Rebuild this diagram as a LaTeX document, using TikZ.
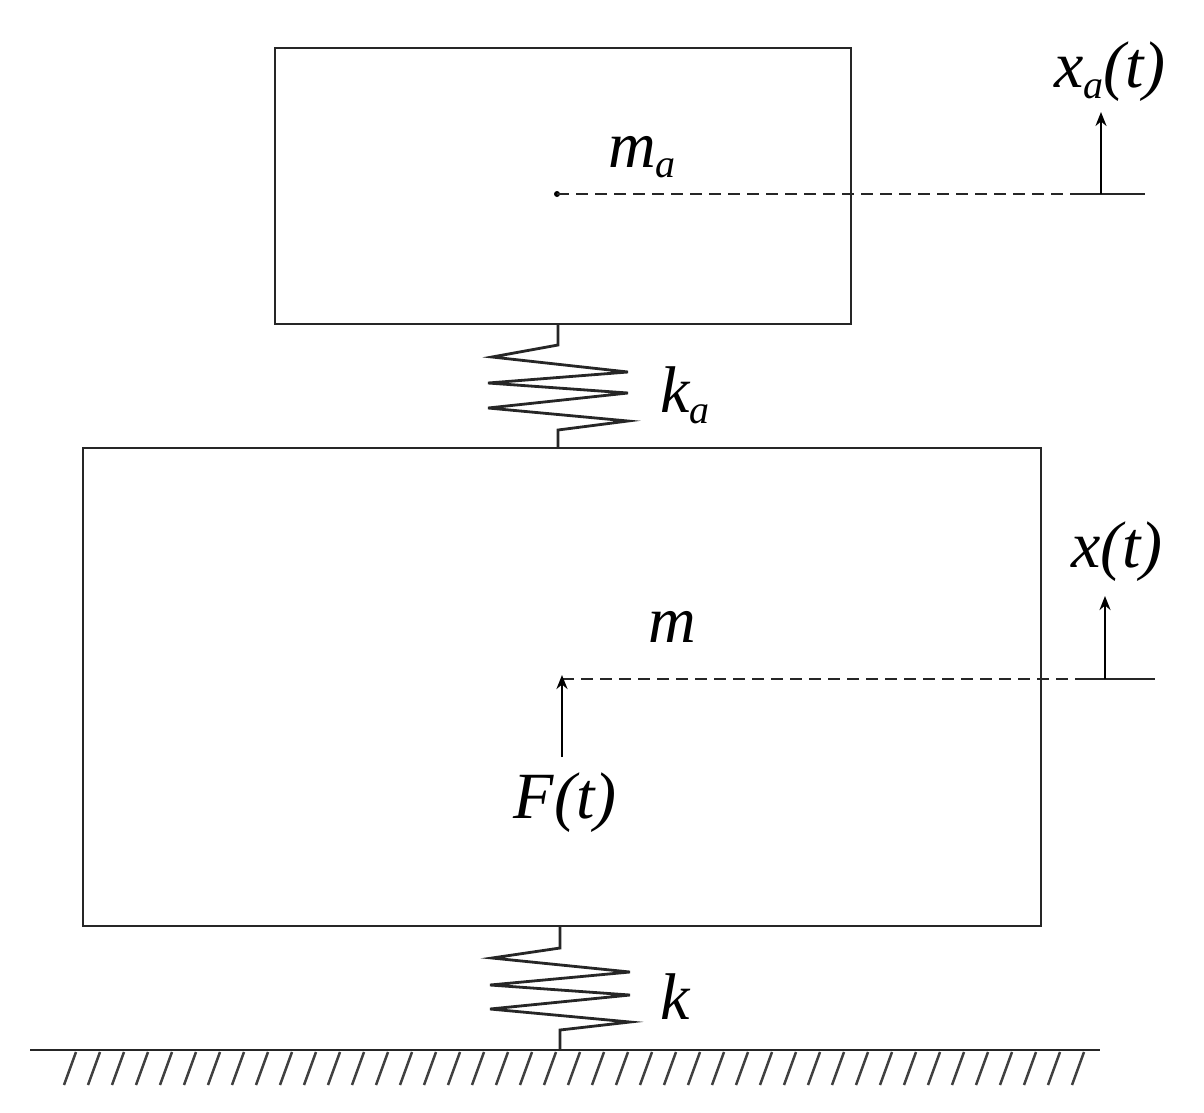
\documentclass[tikz,border=0pt]{standalone}
\usepackage{fontspec}
\setmainfont{Liberation Serif}
\usetikzlibrary{arrows.meta}
\newcommand{\lowsub}[1]{\raisebox{-0.35ex}{\fontsize{40}{40}\selectfont\textit{#1}}}
\begin{document}
\begin{tikzpicture}[x=1pt,y=-1pt,
  line/.style={line width=2.8pt,draw=black!85},
  lbl/.style={font=\fontsize{66}{72}\selectfont\itshape,inner sep=0pt},
  arr/.style={line width=2.8pt,-{Stealth[length=14pt,width=11pt]}}]
\useasboundingbox (0,0) rectangle (1204,1112);
\node[line,draw,minimum width=576,minimum height=276,inner sep=0pt] (ma) at (563,186) {};
\node[line,draw,minimum width=958,minimum height=478,inner sep=0pt] (mb) at (562,687) {};
% spring ka
\draw[line] (558,324) -- (558,345) -- (492,357) -- (628,372) -- (488,383) -- (628,393) -- (488,408) -- (628,421) -- (558,430) -- (558,448);
% spring k
\draw[line] (560,926) -- (560,948) -- (492,958) -- (630,972) -- (490,985) -- (630,995) -- (490,1009) -- (630,1022) -- (560,1030) -- (560,1050);
% ground
\coordinate (g1) at (30,1050); \coordinate (g2) at (1100,1050);
\draw[line] (g1) -- (g2);
\foreach \i in {0,...,42} {\draw[line width=2.5pt,black!75] (76+24*\i,1052) -- (64+24*\i,1085);}
% upper dashed
\coordinate (d1) at (557,194); \coordinate (d2) at (1145,194);
\fill (d1) circle (3);
\draw[line,dash pattern=on 12pt off 7pt] (d1) -- (1080,194);
\draw[line] (1080,194) -- (d2);
\coordinate (a1) at (1101,194); \coordinate (a2) at (1101,112);
\draw[arr] (a1) -- (a2);
\node[lbl] (xa) at (1110,72) {x\lowsub{a}(t)};
\node[lbl] (mal) at (642,157) {m\lowsub{a}};
% lower dashed
\coordinate (e1) at (562,679); \coordinate (e2) at (1155,679);
\draw[line,dash pattern=on 12pt off 7pt] (e1) -- (1080,679);
\draw[line] (1080,679) -- (e2);
\coordinate (b1) at (1105,679); \coordinate (b2) at (1105,596);
\draw[arr] (b1) -- (b2);
\node[lbl] (xl) at (1117,552) {x(t)};
\node[lbl] (ml) at (672,627) {m};
\coordinate (f1) at (562,757); \coordinate (f2) at (562,675);
\draw[arr] (f1) -- (f2);
\node[lbl] (fl) at (565,803) {F(t)};
\node[lbl] (kal) at (685,395) {k\lowsub{a}};
\node[lbl] (kl) at (675,997) {k};
\end{tikzpicture}
\end{document}
